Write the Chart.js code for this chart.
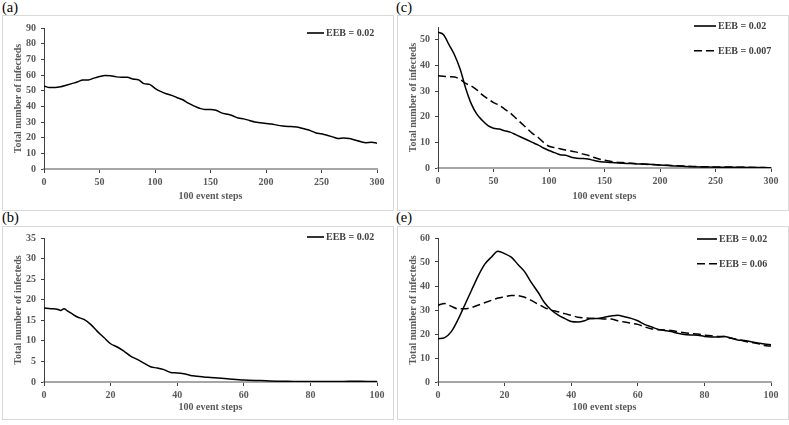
<!DOCTYPE html>
<html lang="en">
<head>
    <meta charset="UTF-8">
    <title>Total number of infecteds</title>
    <script src="https://cdn.jsdelivr.net/npm/chart.js"></script>
    <style>
        body {
            margin: 0;
            width: 789px;
            height: 425px;
            background: #ffffff;
            position: relative;
            overflow: hidden;
            font-family: 'Liberation Serif', 'Times New Roman', serif;
        }
        .tag {
            position: absolute;
            font-size: 14.5px;
            line-height: 15px;
            color: #000;
        }
        .box {
            position: absolute;
            border: 1px solid #d9d9d9;
        }
        .box canvas {
            display: block;
        }
    </style>
</head>
<body>
<div class="tag" style="left:2px; top:0px;">(a)</div>
<div class="tag" style="left:396px; top:0px;">(c)</div>
<div class="tag" style="left:2px; top:210px;">(b)</div>
<div class="tag" style="left:396px; top:210px;">(e)</div>

<div class="box" style="left:2px; top:15px; width:390px; height:194px;"><canvas id="chartA"></canvas></div>
<div class="box" style="left:397px; top:15px; width:390px; height:194px;"><canvas id="chartC"></canvas></div>
<div class="box" style="left:2px; top:226px; width:390px; height:192px;"><canvas id="chartB"></canvas></div>
<div class="box" style="left:397px; top:226px; width:390px; height:192px;"><canvas id="chartE"></canvas></div>

<script>
    // (a) EEB = 0.02, 300 x 100 event steps
    const stepsA = [0, 5, 10, 15, 20, 25, 30, 35, 40, 45, 50, 55, 60, 65, 70, 75, 80, 85, 90, 95, 100,
        105, 110, 115, 120, 125, 130, 135, 140, 145, 150, 155, 160, 165, 170, 175, 180, 185, 190, 195, 200,
        205, 210, 215, 220, 225, 230, 235, 240, 245, 250, 255, 260, 265, 270, 275, 280, 285, 290, 295, 300];
    const infectedA = [53, 52, 52, 52.5, 53.5, 54.5, 55.5, 56.8, 56.8, 58, 59, 59.7, 59.5, 58.8, 58.5, 58.5, 57.5, 57, 54.5, 54, 51.5,
        49.5, 48, 47, 45.5, 44.2, 42, 40.3, 38.8, 38, 38, 37.5, 35.8, 35, 34, 32.5, 32, 31, 30, 29.5, 29,
        28.7, 28, 27.5, 27.2, 27, 26.5, 25.5, 24.5, 23, 22.5, 21.5, 20.5, 19.5, 19.8, 19.5, 18.5, 17.5, 16.8, 17, 16.5];

    // (c) EEB = 0.02 vs EEB = 0.007
    const stepsC = [0, 5, 10, 15, 20, 25, 30, 35, 40, 45, 50, 55, 60, 65, 70, 75, 80, 85, 90, 95, 100,
        105, 110, 115, 120, 125, 130, 135, 140, 145, 150, 160, 170, 180, 190, 200, 210, 220, 230, 240, 250,
        260, 270, 280, 290, 300];
    const infectedC1 = [53, 52, 48, 44, 38.5, 31, 25, 21, 18.5, 16.5, 15.5, 15.2, 14.5, 14, 13, 12, 11, 10, 9, 7.8, 6.8,
        6, 5.2, 5, 4.2, 3.8, 3.7, 3.5, 3, 2.5, 2.3, 2, 1.8, 1.6, 1.5, 1.2, 0.9, 0.7, 0.5, 0.4, 0.3,
        0.3, 0.3, 0.2, 0.2, 0.1];
    const infectedC2 = [36, 35.8, 35.6, 35.5, 34.5, 33, 32, 30.5, 28.5, 27, 25.5, 24.5, 23, 21.5, 19.5, 17.5, 15.5, 13.5, 12, 10, 8.5,
        8, 7.5, 7, 6.6, 6.2, 5.5, 5, 4.2, 3.5, 3, 2.3, 2, 1.6, 1.4, 1.2, 1, 0.8, 0.6, 0.5, 0.4,
        0.4, 0.3, 0.3, 0.2, 0.1];

    // (b) EEB = 0.02, 100 x 100 event steps
    const stepsB = [0, 2, 4, 5, 6, 7, 8, 10, 12, 14, 16, 18, 20, 22, 24, 26, 28, 30, 32, 34, 36, 38, 40,
        42, 44, 46, 48, 50, 55, 60, 65, 70, 75, 80, 85, 90, 95, 100];
    const infectedB = [18, 17.8, 17.7, 17.4, 17.8, 17.3, 16.8, 15.8, 15.2, 14, 12.3, 10.8, 9.3, 8.5, 7.5, 6.3, 5.5, 4.6, 3.7, 3.4, 3, 2.3, 2.2,
        2, 1.6, 1.4, 1.2, 1.1, 0.8, 0.5, 0.35, 0.2, 0.15, 0.1, 0.1, 0.15, 0.2, 0.1];

    // (e) EEB = 0.02 vs EEB = 0.06
    const stepsE = [0, 2, 4, 6, 8, 10, 12, 14, 16, 18, 20, 22, 24, 26, 28, 30, 32, 34, 36, 38, 40, 42, 44, 46, 48, 50,
        52, 54, 56, 58, 60, 62, 64, 66, 68, 70, 72, 74, 76, 78, 80, 82, 84, 86, 88, 90, 92, 94, 96, 98, 100];
    const infectedE1 = [18, 18.5, 21, 26, 32, 38, 44, 49, 52, 54.5, 53.5, 52, 49, 46, 41.5, 37.5, 33, 30, 28, 26.5, 25.2, 25, 25.5, 26.5, 26.5, 27,
        27.5, 27.8, 27.2, 26.5, 25.5, 24, 23, 22, 21.5, 21, 20.3, 19.8, 19.6, 19.5, 19, 18.8, 18.8, 19, 18.3, 17.5, 17.3, 16.8, 16.3, 15.8, 15.5];
    const infectedE2 = [32, 32.7, 31.5, 30.5, 30.5, 31, 32, 33, 34, 35, 35.5, 36, 36, 35.3, 34, 32.5, 31, 30, 29.3, 28.5, 27.8, 27, 26.7, 26.5, 26.5, 26.3,
        26.2, 25.5, 25, 24.5, 24, 23, 22.2, 21.8, 21.7, 21.5, 21, 20.5, 20.2, 20, 19.5, 19.3, 19, 19, 18.2, 17.8, 17, 16.5, 16, 15.2, 15];

    const tickGray = '#595959';
    const fontFam = "'Liberation Serif', 'Times New Roman', serif";

    // legend drawn inside the plot, like the original
    const cornerLegend = {
        id: 'cornerLegend',
        afterDraw(chart, args, opts) {
            const ctx = chart.ctx;
            ctx.save();
            chart.data.datasets.forEach((ds, i) => {
                const y = opts.y + i * opts.gap;
                ctx.beginPath();
                ctx.setLineDash(ds.borderDash || []);
                ctx.lineWidth = 1.6;
                ctx.strokeStyle = '#000';
                ctx.moveTo(opts.x, y);
                ctx.lineTo(opts.x + opts.len, y);
                ctx.stroke();
                ctx.setLineDash([]);
                ctx.fillStyle = '#404040';
                ctx.font = 'bold 10px ' + fontFam;
                ctx.textBaseline = 'middle';
                ctx.fillText(ds.label, opts.x + opts.len + 2, y + 0.5);
            });
            ctx.restore();
        }
    };

    function makeChart(id, sets, cfg) {
        new Chart(document.getElementById(id), {
            type: 'line',
            data: {
                datasets: sets.map(s => ({
                    label: s.label,
                    data: s.xs.map((x, i) => ({x: x, y: s.ys[i]})),
                    borderColor: '#000',
                    borderWidth: 1.5,
                    borderDash: s.dash || [],
                    pointRadius: 0,
                    cubicInterpolationMode: 'monotone',
                    fill: false
                }))
            },
            options: {
                responsive: false,
                animation: false,
                layout: {padding: {top: cfg.top, right: cfg.right, left: 0, bottom: 0}},
                plugins: {
                    legend: {display: false},
                    tooltip: {enabled: false},
                    cornerLegend: cfg.legend
                },
                scales: {
                    x: {
                        type: 'linear',
                        min: 0,
                        max: cfg.xMax,
                        afterFit: scale => { scale.height = cfg.xHeight; },
                        ticks: {stepSize: cfg.xStep, padding: 3, color: tickGray, font: {family: fontFam, size: 10, weight: 'bold'}},
                        grid: {drawOnChartArea: false, tickLength: 4, color: '#404040'},
                        border: {color: '#a6a6a6', width: 2},
                        title: {display: true, text: '100 event steps', color: tickGray, padding: {top: 0, bottom: cfg.titlePad},
                            font: {family: fontFam, size: 10, weight: 'bold'}}
                    },
                    y: {
                        min: 0,
                        max: cfg.yMax,
                        afterFit: scale => { scale.width = cfg.yWidth; },
                        ticks: {stepSize: cfg.yStep, includeBounds: false, padding: 5, color: tickGray, font: {family: fontFam, size: 10, weight: 'bold'}},
                        grid: {drawOnChartArea: false, tickLength: 3, color: '#404040'},
                        border: {color: '#404040', width: 1},
                        title: {display: true, text: 'Total number of infecteds', color: tickGray, padding: {top: 9, bottom: 0},
                            font: {family: fontFam, size: 10, weight: 'bold'}}
                    }
                }
            },
            plugins: [cornerLegend]
        });
    }

    function sizeCanvas(id, w, h) {
        const c = document.getElementById(id);
        c.width = w;
        c.height = h;
        c.style.width = w + 'px';
        c.style.height = h + 'px';
    }
    sizeCanvas('chartA', 390, 194);
    sizeCanvas('chartC', 390, 194);
    sizeCanvas('chartB', 390, 192);
    sizeCanvas('chartE', 390, 192);

    makeChart('chartA', [
        {label: 'EEB = 0.02', xs: stepsA, ys: infectedA}
    ], {xMax: 300, xStep: 50, yMax: 90, yStep: 10, top: 12, right: 16, yWidth: 41, xHeight: 41, titlePad: 8,
        legend: {x: 304, y: 17, len: 17, gap: 0}});

    makeChart('chartC', [
        {label: 'EEB = 0.02', xs: stepsC, ys: infectedC1},
        {label: 'EEB = 0.007', xs: stepsC, ys: infectedC2, dash: [8, 4]}
    ], {xMax: 300, xStep: 50, yMax: 55, yStep: 10, top: 8, right: 17, yWidth: 40, xHeight: 42, titlePad: 8,
        legend: {x: 296, y: 10, len: 22, gap: 24.7}});

    makeChart('chartB', [
        {label: 'EEB = 0.02', xs: stepsB, ys: infectedB}
    ], {xMax: 100, xStep: 20, yMax: 35, yStep: 5, top: 10, right: 16, yWidth: 41, xHeight: 37, titlePad: 6,
        legend: {x: 304, y: 10, len: 17, gap: 0}});

    makeChart('chartE', [
        {label: 'EEB = 0.02', xs: stepsE, ys: infectedE1},
        {label: 'EEB = 0.06', xs: stepsE, ys: infectedE2, dash: [8, 4]}
    ], {xMax: 100, xStep: 20, yMax: 60, yStep: 10, top: 10, right: 17, yWidth: 40, xHeight: 37, titlePad: 6,
        legend: {x: 299, y: 12, len: 20, gap: 24.7}});
</script>
</body>
</html>
